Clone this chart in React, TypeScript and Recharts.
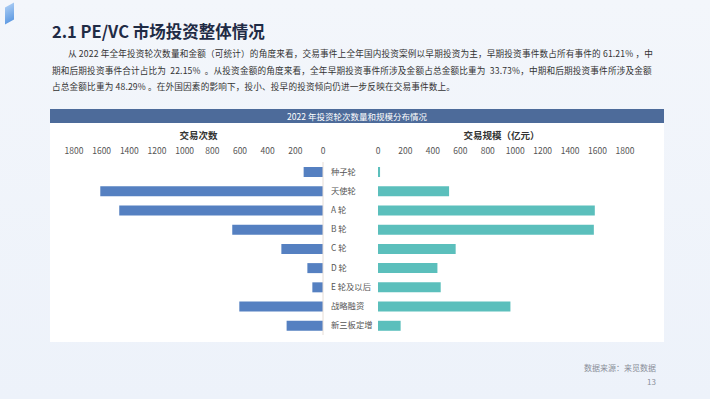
import React from "react";
import { BarChart, Bar, XAxis, YAxis } from "recharts";

// Investment rounds (2022)
const rounds = ["种子轮", "天使轮", "A 轮", "B 轮", "C 轮", "D 轮", "E 轮及以后", "战略融资", "新三板定增"];
// Number of deals per round
const dealCounts = [140, 1610, 1473, 656, 301, 113, 77, 605, 263];
// Deal size per round (亿元)
const dealAmounts = [15, 518, 1580, 1573, 566, 433, 457, 965, 165];
const axisTicks = [0, 200, 400, 600, 800, 1000, 1200, 1400, 1600, 1800];

const paragraphLines = [
  "从 2022 年全年投资轮次数量和金额（可统计）的角度来看，交易事件上全年国内投资案例以早期投资为主，早期投资事件数占所有事件的 61.21% ，中",
  "期和后期投资事件合计占比为  22.15%  。从投资金额的角度来看，全年早期投资事件所涉及金额占总金额比重为  33.73%，中期和后期投资事件所涉及金额",
  "占总金额比重为 48.29% 。在外国因素的影响下，投小、投早的投资倾向仍进一步反映在交易事件数上。",
];

const FONT = '"Noto Sans CJK SC", "Noto Sans", sans-serif';

// plain start-anchored label so long names don't wrap
const RoundTick = (props: any) => {
  const { x, y, payload } = props;
  return (
    <text x={x} y={y} dy="0.35em" textAnchor="start" fontSize={8.3} fill="#555" fontFamily={FONT}>
      {payload.value}
    </text>
  );
};

export default function App() {
  const chartData = rounds.map((name, i) => ({
    name,
    count: dealCounts[i],
    amount: dealAmounts[i],
  }));

  const tickStyle = { fontSize: 8.5, fill: "#555", fontFamily: FONT };
  const titleStyle = { fontSize: 9.5, fontWeight: 700, fill: "#333", fontFamily: FONT };

  return (
    <div
      style={{
        position: "absolute",
        left: 0,
        top: 0,
        width: 710,
        height: 399,
        overflow: "hidden",
        fontFamily: FONT,
        background: "linear-gradient(180deg, #f3f6fb 0%, #edf2fa 100%)",
      }}
    >
      {/* decoration top left */}
      <div
        style={{
          position: "absolute",
          left: 5,
          top: 5,
          width: 9,
          height: 17,
          background: "linear-gradient(180deg, #8fbcf0, #3d86dd)",
          transform: "skewY(-30deg)",
          opacity: 0.8,
        }}
      />
      <div
        style={{
          position: "absolute",
          left: 52,
          top: 19,
          fontSize: 16.5,
          fontWeight: 700,
          color: "#1f2b45",
        }}
      >
        2.1 PE/VC 市场投资整体情况
      </div>
      <div
        style={{
          position: "absolute",
          left: 52,
          top: 45,
          width: 640,
          fontSize: 8.65,
          lineHeight: "16.5px",
          color: "#333",
          whiteSpace: "pre",
          letterSpacing: 0.15,
        }}
      >
        {paragraphLines.map((line, i) => (
          <div key={i} style={{ paddingLeft: i === 0 ? 16 : 0 }}>
            {line}
          </div>
        ))}
      </div>

      {/* card */}
      <div
        style={{
          position: "absolute",
          left: 50,
          top: 109,
          width: 614,
          height: 233,
          background: "#fff",
        }}
      />
      <div
        style={{
          position: "absolute",
          left: 50,
          top: 109,
          width: 614,
          height: 14,
          background: "#4d6b9a",
          color: "#fff",
          fontSize: 8.5,
          lineHeight: "14px",
          textAlign: "center",
        }}
      >
        2022 年投资轮次数量和规模分布情况
      </div>

      <div style={{ position: "absolute", left: 60, top: 122 }}>
        <BarChart
          width={313}
          height={220}
          data={chartData}
          layout="vertical"
          margin={{ top: 10, right: 0, bottom: 7, left: 14 }}
          style={{ overflow: "visible" }}
        >
          <XAxis
            type="number"
            orientation="top"
            reversed
            domain={[0, 1800]}
            ticks={axisTicks}
            interval={0}
            height={30}
            tickLine={false}
            axisLine={false}
            tick={tickStyle}
            label={{ value: "交易次数", position: "insideTop", offset: 0, style: titleStyle }}
          />
          <YAxis
            type="category"
            dataKey="name"
            orientation="right"
            width={50}
            interval={0}
            tickLine={false}
            axisLine={{ stroke: "#e6ddd6" }}
            tick={<RoundTick />}
          />
          <Bar dataKey="count" fill="#5580c1" barSize={10} isAnimationActive={false} />
        </BarChart>
      </div>

      <div style={{ position: "absolute", left: 370, top: 122 }}>
        <BarChart
          width={275}
          height={220}
          data={chartData}
          layout="vertical"
          margin={{ top: 10, right: 20, bottom: 7, left: 8 }}
        >
          <XAxis
            type="number"
            orientation="top"
            domain={[0, 1800]}
            ticks={axisTicks}
            interval={0}
            height={30}
            tickLine={false}
            axisLine={false}
            tick={tickStyle}
            label={{ value: "交易规模（亿元）", position: "insideTop", offset: 0, style: titleStyle }}
          />
          <YAxis type="category" dataKey="name" hide />
          <Bar dataKey="amount" fill="#5bbfbc" barSize={10} isAnimationActive={false} />
        </BarChart>
      </div>

      <div
        style={{
          position: "absolute",
          right: 54,
          top: 361,
          fontSize: 8,
          color: "#8a8f99",
          textAlign: "right",
          lineHeight: "14px",
        }}
      >
        数据来源：来觅数据
        <br />
        13
      </div>
    </div>
  );
}
